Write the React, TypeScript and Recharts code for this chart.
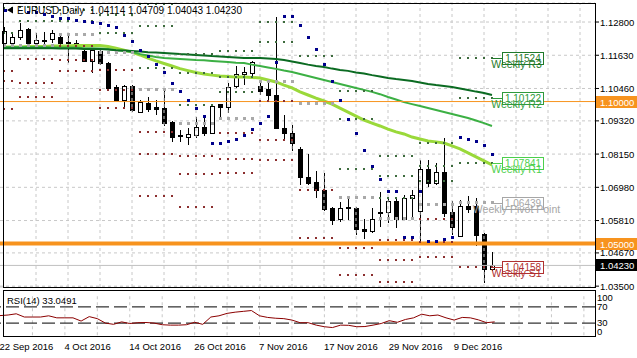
import React from "react";
import {
  ComposedChart, Bar, Line, XAxis, YAxis, CartesianGrid, ReferenceLine, ReferenceDot,
} from "recharts";

const FONT = "'Liberation Sans', Arial, sans-serif";

// daily EURUSD bars, 22 Sep 2016 .. 16 Dec 2016
const opens = [1.1206, 1.1206, 1.1227, 1.1255, 1.1206, 1.1215, 1.122, 1.1227, 1.121, 1.1206, 1.1178, 1.1143, 1.1178, 1.1136, 1.1051, 1.1005, 1.1055, 1.0963, 1.0995, 1.0981, 1.0977, 1.0928, 1.0882, 1.0875, 1.0882, 1.091, 1.0889, 1.0991, 1.0981, 1.1055, 1.1097, 1.11, 1.1055, 1.1044, 1.1023, 1.0907, 1.0889, 1.0833, 1.0734, 1.0717, 1.0689, 1.0625, 1.0587, 1.0627, 1.0625, 1.0551, 1.0544, 1.0609, 1.0611, 1.065, 1.0587, 1.066, 1.0615, 1.0763, 1.0713, 1.0752, 1.0611, 1.0527, 1.0632, 1.0632, 1.0534, 1.04114];
const highs = [1.1262, 1.1245, 1.1277, 1.1259, 1.1241, 1.1245, 1.1252, 1.1234, 1.1234, 1.1217, 1.1189, 1.1185, 1.1189, 1.1139, 1.1058, 1.1058, 1.1058, 1.1005, 1.1016, 1.1005, 1.1037, 1.093, 1.09, 1.0907, 1.0946, 1.0942, 1.0991, 1.0993, 1.1065, 1.1125, 1.1122, 1.1142, 1.1076, 1.1065, 1.1298, 1.0953, 1.0917, 1.084, 1.0815, 1.0756, 1.0749, 1.0629, 1.0646, 1.0664, 1.0627, 1.0586, 1.0625, 1.0682, 1.0664, 1.0664, 1.0671, 1.0689, 1.0794, 1.0794, 1.0784, 1.0872, 1.065, 1.0653, 1.0667, 1.066, 1.0536, 1.04709];
const lows = [1.1199, 1.1192, 1.1217, 1.1203, 1.1189, 1.1199, 1.1206, 1.1199, 1.1136, 1.1189, 1.1139, 1.1101, 1.1129, 1.1041, 1.1002, 1.0981, 1.0963, 1.096, 1.0963, 1.0953, 1.0914, 1.0858, 1.0858, 1.0847, 1.0872, 1.0879, 1.0889, 1.0935, 1.096, 1.1048, 1.1058, 1.1083, 1.1023, 1.1005, 1.0905, 1.0865, 1.0826, 1.0706, 1.0706, 1.066, 1.0615, 1.0565, 1.0576, 1.0583, 1.053, 1.0516, 1.0537, 1.0558, 1.0573, 1.0555, 1.0583, 1.0594, 1.0506, 1.0699, 1.0706, 1.0594, 1.053, 1.0523, 1.0608, 1.0492, 1.0361, 1.04043];
const closes = [1.125, 1.1227, 1.1252, 1.1206, 1.1217, 1.1213, 1.1241, 1.1206, 1.1206, 1.1204, 1.1143, 1.1181, 1.1136, 1.1048, 1.1005, 1.1055, 1.097, 1.0998, 1.0974, 1.0974, 1.0925, 1.0875, 1.0879, 1.0886, 1.091, 1.0889, 1.0984, 1.0981, 1.1051, 1.1097, 1.1104, 1.1139, 1.1037, 1.1023, 1.0907, 1.0889, 1.0854, 1.0734, 1.0713, 1.0689, 1.0622, 1.0583, 1.0625, 1.0624, 1.0551, 1.0544, 1.0587, 1.0612, 1.065, 1.0587, 1.066, 1.0671, 1.0763, 1.0713, 1.0752, 1.0608, 1.0558, 1.0632, 1.0622, 1.053, 1.0411, 1.0423];

// moving averages (dark / mid / light green)
const maSlow = [1.1188, 1.1188, 1.1188, 1.1188, 1.1188, 1.1188, 1.1188, 1.1187, 1.1187, 1.1187, 1.1185, 1.1185, 1.1185, 1.1183, 1.1181, 1.118, 1.1178, 1.1176, 1.1174, 1.1173, 1.1171, 1.1169, 1.1167, 1.1166, 1.1164, 1.1162, 1.116, 1.1159, 1.1157, 1.1155, 1.1153, 1.1153, 1.1153, 1.1152, 1.115, 1.1146, 1.1141, 1.1136, 1.113, 1.1125, 1.1122, 1.1116, 1.1111, 1.1108, 1.1102, 1.1099, 1.1093, 1.1088, 1.1083, 1.1079, 1.1076, 1.1072, 1.1067, 1.1062, 1.1058, 1.1055, 1.1051, 1.1046, 1.1041, 1.1035, 1.103, 1.1023];
const maMid = [1.1192, 1.1192, 1.1192, 1.1192, 1.1192, 1.1192, 1.119, 1.119, 1.119, 1.119, 1.1188, 1.1188, 1.1187, 1.1185, 1.1181, 1.1178, 1.1174, 1.1167, 1.1162, 1.1157, 1.1153, 1.1152, 1.115, 1.1148, 1.1146, 1.1145, 1.1143, 1.1141, 1.1139, 1.1137, 1.1136, 1.113, 1.1125, 1.112, 1.1115, 1.1109, 1.1104, 1.1097, 1.109, 1.1083, 1.1076, 1.1069, 1.1062, 1.1055, 1.1048, 1.1041, 1.1034, 1.1026, 1.1016, 1.1007, 1.0998, 1.0991, 1.0984, 1.0977, 1.097, 1.0963, 1.0956, 1.0949, 1.0942, 1.0933, 1.0924, 1.0914];
const maFast = [1.1192, 1.1192, 1.1192, 1.1194, 1.1194, 1.1194, 1.1196, 1.1196, 1.1196, 1.1197, 1.1197, 1.1197, 1.1197, 1.1194, 1.1188, 1.1181, 1.1174, 1.1164, 1.1153, 1.1143, 1.1134, 1.1125, 1.1116, 1.1109, 1.1102, 1.1097, 1.1093, 1.109, 1.1088, 1.1086, 1.1086, 1.1085, 1.1083, 1.1076, 1.1069, 1.1058, 1.1048, 1.1034, 1.1023, 1.1012, 1.1002, 1.0991, 1.0977, 1.0963, 1.0949, 1.0935, 1.0924, 1.0914, 1.0903, 1.0893, 1.0886, 1.0875, 1.0868, 1.0861, 1.0858, 1.0854, 1.0844, 1.0833, 1.0819, 1.0805, 1.0791, 1.0777];

// parabolic SAR
const sar = [null, null, null, 1.1312, 1.1312, 1.1305, 1.1298, 1.1294, 1.1294, 1.1287, 1.1283, 1.128, 1.1276, 1.1269, 1.1259, 1.1234, 1.121, 1.1181, 1.1157, 1.1129, 1.1101, 1.1065, 1.1037, 1.1002, 1.0974, 1.0949, 1.0851, 1.0854, 1.0861, 1.0868, 1.0879, 1.09, 1.0924, 1.0946, 1.1139, 1.1298, 1.1298, 1.1269, 1.1224, 1.1185, 1.1132, 1.1072, 1.1002, 1.0938, 1.0889, 1.0829, 1.0773, 1.0727, 1.0685, 1.0685, 1.052, 1.0523, 1.0685, 1.0506, 1.0506, 1.0513, 1.0523, 1.0875, 1.0865, 1.0858, 1.0844, 1.0815];

// RSI(14)
const rsi = [48.5, 50, 53, 45, 45, 45, 48, 43, 43, 43, 35, 46, 41, 30, 27, 33, 29, 31, 31.5, 30, 26, 25, 25, 26, 32, 27, 45, 48, 54, 57, 59, 61, 48, 44, 42, 41, 37.5, 31, 31, 25, 21, 19, 25, 24.5, 21, 21.5, 25, 29, 36, 32, 39, 43, 52, 48, 50, 43, 37.5, 44, 43, 38, 31, 33.05];

// weekly pivot levels, one entry per week
const weekStarts = [0, 2, 7, 12, 17, 22, 27, 32, 37, 42, 47, 52, 57];
const pivR3 = [1.142, 1.1418, 1.1371, 1.1376, 1.1345, 1.1167, 1.1179, 1.1416, 1.1632, 1.1036, 1.081, 1.0855, 1.11524];
const pivR2 = [1.133, 1.1333, 1.1324, 1.1305, 1.1267, 1.1102, 1.1085, 1.1279, 1.1465, 1.0938, 1.0737, 1.0772, 1.10122];
const pivR1 = [1.124, 1.1284, 1.1283, 1.1243, 1.1119, 1.0988, 1.1035, 1.1209, 1.116, 1.0761, 1.0662, 1.0721, 1.07841];
const pivP = [1.1198, 1.1199, 1.1236, 1.1172, 1.1041, 1.0923, 1.0941, 1.1072, 1.0993, 1.0663, 1.0589, 1.0638, 1.06439];
const pivS1 = [1.1108, 1.115, 1.1195, 1.111, 1.0893, 1.0809, 1.0891, 1.1002, 1.0688, 1.0486, 1.0514, 1.0587, 1.04158];
const pivS2 = [1.1071, 1.1065, 1.1148, 1.1039, 1.0815, 1.0744, 1.0797, 1.0865, 1.0521, 1.0388, 1.0441, 1.0504, 1.02756];
const pivS3 = [1.0974, 1.1016, 1.1107, 1.0977, 1.0667, 1.063, 1.0747, 1.0795, 1.0216, 1.0211, 1.0366, 1.0453, 1.0047];

const weeklyTags = [
  { name: "Weekly R3", value: 1.11524, color: "#1f7a2a" },
  { name: "Weekly R2", value: 1.10122, color: "#2f9a3c" },
  { name: "Weekly R1", value: 1.07841, color: "#4ccf4c" },
  { name: "Weekly Pivot Point", value: 1.06439, color: "#a6a6a6" },
  { name: "Weekly S1", value: 1.04158, color: "#b03030" },
];

const priceTicks = [1.035, 1.0467, 1.0581, 1.0698, 1.0815, 1.0932, 1.1046, 1.1163, 1.128];
const rsiTicks = [0, 30, 70, 100];
const dateTickIdx = [0, 8, 16, 24, 32, 40, 48, 56];
const dateLabels = ["22 Sep 2016", "4 Oct 2016", "14 Oct 2016", "26 Oct 2016", "7 Nov 2016", "17 Nov 2016", "29 Nov 2016", "9 Dec 2016"];
const gridIdx = [4, 8, 12, 16, 20, 24, 28, 32, 36, 40, 44, 48, 52, 56, 60, 64, 68, 72];

const SLOTS = 74;
const lastClose = 1.0423;

const weekOf = (i: number) => {
  let w = 0;
  weekStarts.forEach((s, k) => { if (i >= s) w = k; });
  return w;
};

const rows = Array.from({ length: SLOTS }, (_, i) => {
  const has = i < closes.length;
  const w = weekOf(i);
  return {
    i,
    o: has ? opens[i] : null,
    h: has ? highs[i] : null,
    l: has ? lows[i] : null,
    c: has ? closes[i] : null,
    maSlow: has ? maSlow[i] : null,
    maMid: has ? maMid[i] : null,
    maFast: has ? maFast[i] : null,
    sar: has ? sar[i] : null,
    rsi: has ? rsi[i] : null,
    r3: has ? pivR3[w] : null,
    r2: has ? pivR2[w] : null,
    r1: has ? pivR1[w] : null,
    p: has ? pivP[w] : null,
    s1: has ? pivS1[w] : null,
    s2: has ? pivS2[w] : null,
    s3: has ? pivS3[w] : null,
  };
});

function Candle(props: any) {
  const { x, y, width, height, payload } = props;
  if (!payload || payload.o == null || !Number.isFinite(y) || !Number.isFinite(height)) return <g />;
  const top = Math.min(y, y + height);
  const span = Math.abs(height);
  const range = payload.h - payload.l;
  const py = (v: number) => top + ((payload.h - v) / range) * span;
  const cx = Math.floor(x + width / 2);
  const yH = Math.round(py(payload.h));
  const yL = Math.round(py(payload.l));
  const yO = Math.round(py(payload.o));
  const yC = Math.round(py(payload.c));
  const bTop = Math.min(yO, yC);
  const bBot = Math.max(yO, yC);
  const up = payload.c >= payload.o;
  return (
    <g>
      <rect x={cx} y={yH} width={1} height={Math.max(1, yL - yH)} fill="#000" />
      {up ? (
        <rect x={cx - 1.5} y={bTop + 0.5} width={4} height={Math.max(0, bBot - bTop)} fill="#fff" stroke="#000" strokeWidth={1} />
      ) : (
        <rect x={cx - 2} y={bTop} width={5} height={Math.max(1, bBot - bTop + 1)} fill="#000" />
      )}
    </g>
  );
}

const squareDot = (color: string, size: number, name: string) => (props: any) => {
  const { cx, cy, index } = props;
  if (cx == null || cy == null || !Number.isFinite(cy)) return <g key={`${name}-${index}`} />;
  return (
    <rect key={`${name}-${index}`} x={Math.round(cx - size / 2)} y={Math.round(cy - size / 2)} width={size} height={size} fill={color} />
  );
};

function WeeklyTag(props: any) {
  const { cx, cy, tag } = props;
  if (!Number.isFinite(cx) || !Number.isFinite(cy)) return <g />;
  const ry = Math.round(cy);
  const bx = cx + 10;
  return (
    <g>
      <line x1={cx} x2={bx} y1={ry + 0.5} y2={ry + 0.5} stroke={tag.color} />
      <rect x={bx + 0.5} y={ry - 5.5} width={41} height={12} fill="#fff" stroke={tag.color} />
      <text x={bx + 21} y={ry + 4} textAnchor="middle" fontSize={10} fontFamily={FONT} fill={tag.color}>
        {tag.value.toFixed(5)}
      </text>
      <text x={cx + 24.5} y={ry + 10} textAnchor="middle" fontSize={10.5} fontFamily={FONT} fill={tag.color}>
        {tag.name}
      </text>
    </g>
  );
}

function AxisBadge({ viewBox, text, bg }: any) {
  if (!viewBox) return null;
  const x = viewBox.x + viewBox.width + 1;
  const y = Math.round(viewBox.y);
  return (
    <g>
      <rect x={x} y={y - 6} width={41} height={12} fill={bg} />
      <text x={x + 4} y={y + 3.5} fontSize={9.5} fontFamily={FONT} fill="#fff">{text}</text>
    </g>
  );
}

function PriceTick({ x, y, payload }: any) {
  return (
    <text x={x} y={y + 3.5} fontSize={9.5} fontFamily={FONT} fill="#000">
      {Number(payload.value).toFixed(5)}
    </text>
  );
}

function RsiTick({ x, y, payload }: any) {
  const v = payload.value;
  const shift = v === 100 ? 3 : v === 0 ? -4 : 0;
  return (
    <text x={x} y={y + 3.3 + shift} fontSize={9.5} fontFamily={FONT} fill="#000">{v}</text>
  );
}

function DateTick({ x, y, payload }: any) {
  const k = dateTickIdx.indexOf(payload.value);
  if (k < 0) return <g />;
  return (
    <text x={x - 0.5} y={y + 14.5} fontSize={9.5} fontFamily={FONT} fill="#000" textAnchor="start">
      {dateLabels[k]}
    </text>
  );
}

const ORANGE = "#f7931e";

export default function App() {
  return (
    <div style={{ position: "absolute", left: 0, top: 0, width: 637, height: 358, background: "#fff", overflow: "hidden" }}>
      <div style={{ position: "absolute", left: 0, top: 0 }}>
        <ComposedChart width={637} height={296} data={rows} margin={{ top: 3, right: 0, bottom: 9, left: 0 }}>
          <CartesianGrid vertical={false} stroke="#c8c8c8" strokeDasharray="3 3" />
          <XAxis dataKey="i" type="category" hide padding={{ left: 0, right: 3 }} />
          <YAxis
            orientation="right"
            width={42}
            domain={[1.0347, 1.1347]}
            allowDataOverflow
            ticks={priceTicks}
            interval={0}
            axisLine={false}
            tickLine={{ stroke: "#000" }}
            tickSize={4}
            tickMargin={1}
            tick={<PriceTick />}
          />
          {gridIdx.map((g) => (
            <ReferenceLine key={`vg${g}`} x={g} stroke="#c8c8c8" strokeDasharray="3 3" />
          ))}
          <Bar dataKey={(d: any) => (d.o == null ? null : [d.l, d.h])} barSize={5} shape={Candle} isAnimationActive={false} />
          <Line dataKey="r3" stroke="none" dot={squareDot("#3d6b3d", 2, "r3")} activeDot={false} isAnimationActive={false} />
          <Line dataKey="r2" stroke="none" dot={squareDot("#3d6b3d", 2, "r2")} activeDot={false} isAnimationActive={false} />
          <Line dataKey="r1" stroke="none" dot={squareDot("#3d6b3d", 2, "r1")} activeDot={false} isAnimationActive={false} />
          <Line dataKey="p" stroke="none" dot={squareDot("#a9a9a9", 3, "p")} activeDot={false} isAnimationActive={false} />
          <Line dataKey="s1" stroke="none" dot={squareDot("#8b2e2e", 2, "s1")} activeDot={false} isAnimationActive={false} />
          <Line dataKey="s2" stroke="none" dot={squareDot("#8b2e2e", 2, "s2")} activeDot={false} isAnimationActive={false} />
          <Line dataKey="s3" stroke="none" dot={squareDot("#8b2e2e", 2, "s3")} activeDot={false} isAnimationActive={false} />
          <Line type="linear" dataKey="maFast" stroke="#9ad93a" strokeWidth={3} dot={false} activeDot={false} isAnimationActive={false} />
          <Line type="linear" dataKey="maMid" stroke="#3cb044" strokeWidth={2} dot={false} activeDot={false} isAnimationActive={false} />
          <Line type="linear" dataKey="maSlow" stroke="#0b6b22" strokeWidth={2} dot={false} activeDot={false} isAnimationActive={false} />
          <Line dataKey="sar" stroke="none" dot={squareDot("#00008b", 3, "sar")} activeDot={false} isAnimationActive={false} />
          <ReferenceLine y={lastClose} stroke="#c0c0c0" label={(p: any) => <AxisBadge viewBox={p.viewBox} text="1.04230" bg="#000" />} />
          <ReferenceLine y={1.1} stroke={ORANGE} strokeWidth={1} label={(p: any) => <AxisBadge viewBox={p.viewBox} text="1.10000" bg={ORANGE} />} />
          <ReferenceLine y={1.05} stroke={ORANGE} strokeWidth={4} label={(p: any) => <AxisBadge viewBox={p.viewBox} text="1.05000" bg={ORANGE} />} />
          {weeklyTags.map((t) => (
            <ReferenceDot key={t.name} x={61} y={t.value} r={0} shape={(p: any) => <WeeklyTag {...p} tag={t} />} />
          ))}
        </ComposedChart>
      </div>

      <div style={{ position: "absolute", left: 0, top: 289 }}>
        <ComposedChart width={637} height={69} data={rows} margin={{ top: 5.75, right: 0, bottom: 0, left: 0 }}>
          <XAxis
            dataKey="i"
            type="category"
            padding={{ left: 0, right: 3 }}
            ticks={dateTickIdx}
            interval={0}
            axisLine={false}
            tickLine={false}
            tickSize={0}
            tickMargin={0}
            height={22.75}
            tick={<DateTick />}
          />
          <YAxis
            orientation="right"
            width={42}
            domain={[0, 100]}
            ticks={rsiTicks}
            interval={0}
            axisLine={false}
            tickLine={false}
            tickSize={0}
            tickMargin={2}
            tick={<RsiTick />}
          />
          {gridIdx.map((g) => (
            <ReferenceLine key={`rg${g}`} x={g} stroke="#c8c8c8" strokeDasharray="3 3" />
          ))}
          <ReferenceLine y={70} stroke="#000" strokeDasharray="13 5" />
          <ReferenceLine y={30} stroke="#000" strokeDasharray="13 5" />
          <Line type="linear" dataKey="rsi" stroke="#8b0000" strokeWidth={1} dot={false} activeDot={false} isAnimationActive={false} />
        </ComposedChart>
      </div>

      {/* panel frames */}
      <div style={{ position: "absolute", left: 3, top: 3, width: 593, height: 285, border: "1px solid #000", boxSizing: "border-box", pointerEvents: "none" }} />
      <div style={{ position: "absolute", left: 3, top: 290, width: 593, height: 47, border: "1px solid #000", boxSizing: "border-box", pointerEvents: "none" }} />

      <svg width={637} height={358} style={{ position: "absolute", left: 0, top: 0, pointerEvents: "none" }}>
        <polygon points="7,10 13,6.5 13,13.5" fill="#000" />
        <rect x={4} y={9} width={3} height={3} fill="#00008b" />
        <text x={17} y={13.5} fontSize={10} fontFamily={FONT} fill="#000" xmlSpace="preserve">
          {"EURUSD,Daily  1.04114 1.04709 1.04043 1.04230"}
        </text>
        <text x={7} y={303.5} fontSize={9.5} fontFamily={FONT} fill="#000">RSI(14) 33.0491</text>
      </svg>
    </div>
  );
}
